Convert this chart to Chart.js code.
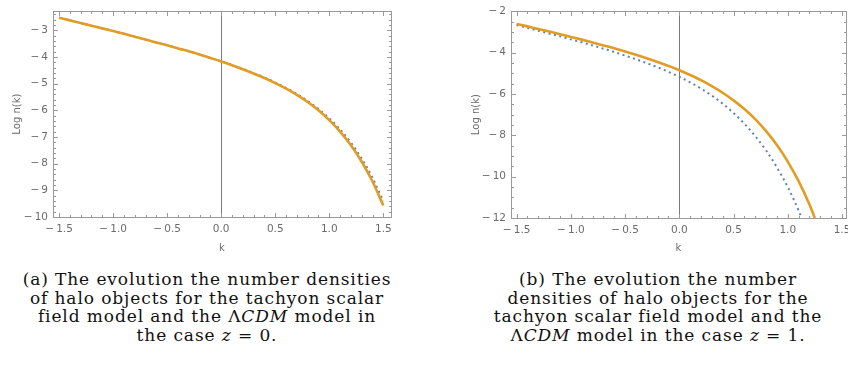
<!DOCTYPE html>
<html lang="en">
<head>
  <meta charset="UTF-8">
  <title>Halo number densities</title>
  <script src="https://cdn.jsdelivr.net/npm/chart.js"></script>
  <style>
    html, body { margin: 0; padding: 0; background: #fff; overflow: hidden; }
    body { width: 848px; height: 366px; position: relative; }
    canvas { position: absolute; top: 0; }
    #chartA { left: 0; }
    #chartB { left: 424px; }
    .caption {
      position: absolute;
      font-family: "DejaVu Serif", serif;
      font-size: 17px;
      letter-spacing: 0.9px;
      line-height: 18.5px;
      text-align: center;
      color: #111;
      white-space: nowrap;
    }
    .caption i { font-style: italic; }
    #capA { left: 0; width: 414px; top: 270px; }
    #capB { left: 458px; width: 400px; top: 270px; }
  </style>
</head>
<body>
  <canvas id="chartA" width="424" height="260"></canvas>
  <canvas id="chartB" width="440" height="260"></canvas>

  <div class="caption" id="capA">
    (a) The evolution the number densities<br>
    of halo objects for the tachyon scalar<br>
    field model and the Λ<i>CDM</i> model in<br>
    the case <i>z</i> = 0.
  </div>
  <div class="caption" id="capB">
    (b) The evolution the number<br>
    densities of halo objects for the<br>
    tachyon scalar field model and the<br>
    Λ<i>CDM</i> model in the case <i>z</i> = 1.
  </div>

  <script>
    // k values (shared by the z = 0 panel)
    const kValues = [-1.5, -1.4, -1.3, -1.2, -1.1, -1.0, -0.9, -0.8, -0.7, -0.6, -0.5,
      -0.4, -0.3, -0.2, -0.1, 0.0, 0.1, 0.2, 0.3, 0.4, 0.5, 0.6, 0.7, 0.8, 0.9, 1.0,
      1.1, 1.2, 1.3, 1.4, 1.5];

    // panel (a), z = 0
    const tachyonZ0 = [-2.53, -2.63, -2.73, -2.83, -2.93, -3.03, -3.13, -3.24, -3.35, -3.46, -3.56,
      -3.68, -3.79, -3.91, -4.04, -4.17, -4.31, -4.46, -4.62, -4.79, -4.98, -5.19, -5.42, -5.69, -6.00,
      -6.37, -6.80, -7.31, -7.93, -8.67, -9.57];
    const lcdmZ0 = [-2.53, -2.63, -2.73, -2.83, -2.93, -3.03, -3.13, -3.24, -3.35, -3.46, -3.56,
      -3.68, -3.79, -3.91, -4.04, -4.17, -4.30, -4.45, -4.61, -4.77, -4.96, -5.16, -5.39, -5.65, -5.95,
      -6.30, -6.72, -7.21, -7.81, -8.53, -9.41];

    // panel (b), z = 1
    const kTachyonZ1 = [-1.5, -1.4, -1.3, -1.2, -1.1, -1.0, -0.9, -0.8, -0.7, -0.6, -0.5,
      -0.4, -0.3, -0.2, -0.1, 0.0, 0.1, 0.2, 0.3, 0.4, 0.5, 0.6, 0.7, 0.8, 0.9, 1.0,
      1.1, 1.2, 1.25];
    const tachyonZ1 = [-2.61, -2.73, -2.86, -2.98, -3.11, -3.24, -3.37, -3.51, -3.65, -3.79, -3.94,
      -4.10, -4.27, -4.45, -4.64, -4.85, -5.08, -5.33, -5.62, -5.94, -6.31, -6.73, -7.22, -7.80, -8.47,
      -9.27, -10.22, -11.35, -12.0];
    const kLcdmZ1 = [-1.5, -1.4, -1.3, -1.2, -1.1, -1.0, -0.9, -0.8, -0.7, -0.6, -0.5,
      -0.4, -0.3, -0.2, -0.1, 0.0, 0.1, 0.2, 0.3, 0.4, 0.5, 0.6, 0.7, 0.8, 0.9, 1.0,
      1.1, 1.12];
    const lcdmZ1 = [-2.67, -2.80, -2.94, -3.08, -3.21, -3.36, -3.50, -3.65, -3.81, -3.97, -4.14,
      -4.32, -4.51, -4.71, -4.93, -5.17, -5.44, -5.74, -6.08, -6.47, -6.92, -7.44, -8.04, -8.73, -9.55,
      -10.50, -11.64, -11.90];

    // tick labels
    const xMajorTicks = [-1.5, -1.0, -0.5, 0.0, 0.5, 1.0, 1.5];
    const yMajorTicksA = [-3, -4, -5, -6, -7, -8, -9, -10];
    const yMajorTicksB = [-2, -4, -6, -8, -10, -12];

    const orange = '#e19c24';
    const blue = '#5e81b5';
    const frameColor = '#9a9a9a';
    const labelColor = '#6b6b6b';

    function pairs(xs, ys) {
      return xs.map((x, i) => ({ x: x, y: ys[i] }));
    }

    function range(from, to, step) {
      const out = [];
      const n = Math.round((to - from) / step);
      for (let i = 0; i <= n; i++) out.push(+(from + i * step).toFixed(4));
      return out;
    }

    function fmt(v, digits) {
      const s = Math.abs(v).toFixed(digits);
      return v < 0 ? '\u2212\u2009' + s : s;
    }

    // frame with inward ticks on all four sides, plus the vertical axis at k = 0
    const framePlugin = {
      id: 'frame',
      beforeDatasetsDraw(chart) {
        const { ctx, chartArea: a, scales: { x } } = chart;
        const px = Math.round(x.getPixelForValue(0)) + 0.5;
        ctx.save();
        ctx.strokeStyle = '#7a7a7a';
        ctx.lineWidth = 1;
        ctx.beginPath();
        ctx.moveTo(px, a.top);
        ctx.lineTo(px, a.bottom);
        ctx.stroke();
        ctx.restore();
      },
      afterDraw(chart) {
        const { ctx, chartArea: a, scales: { x, y } } = chart;
        const o = chart.options.plugins.frame;
        const l = Math.round(a.left) + 0.5, r = Math.round(a.right) + 0.5;
        const t = Math.round(a.top) + 0.5, b = Math.round(a.bottom) + 0.5;
        ctx.save();
        ctx.strokeStyle = frameColor;
        ctx.lineWidth = 1;
        ctx.strokeRect(l, t, r - l, b - t);
        ctx.beginPath();
        o.xMinor.forEach(v => {
          const p = Math.round(x.getPixelForValue(v)) + 0.5;
          if (p < l || p > r) return;
          const len = o.xMajor.some(m => Math.abs(m - v) < 1e-6) ? 4.5 : 2.5;
          ctx.moveTo(p, b); ctx.lineTo(p, b - len);
          ctx.moveTo(p, t); ctx.lineTo(p, t + len);
        });
        o.yMinor.forEach(v => {
          const p = Math.round(y.getPixelForValue(v)) + 0.5;
          if (p < t || p > b) return;
          const len = o.yMajor.some(m => Math.abs(m - v) < 1e-6) ? 4.5 : 2.5;
          ctx.moveTo(l, p); ctx.lineTo(l + len, p);
          ctx.moveTo(r, p); ctx.lineTo(r - len, p);
        });
        ctx.stroke();
        ctx.restore();
      }
    };

    function makeChart(id, cfg) {
      const ctx = document.getElementById(id).getContext('2d');
      return new Chart(ctx, {
        type: 'line',
        data: {
          datasets: [{
            label: 'tachyon',
            data: cfg.tachyon,
            borderColor: orange,
            borderWidth: 2.6,
            pointRadius: 0,
            cubicInterpolationMode: 'monotone',
            order: 0
          }, {
            label: 'LCDM',
            data: cfg.lcdm,
            borderColor: blue,
            borderWidth: 2,
            borderDash: [2, 3.5],
            pointRadius: 0,
            cubicInterpolationMode: 'monotone',
            order: 1
          }]
        },
        options: {
          responsive: false,
          animation: false,
          layout: { padding: { top: cfg.padTop, right: cfg.padRight, left: 0, bottom: 0 } },
          plugins: {
            legend: { display: false },
            tooltip: { enabled: false },
            frame: {
              xMajor: xMajorTicks, xMinor: range(-1.5, 1.5, 0.1),
              yMajor: cfg.yMajor, yMinor: cfg.yMinor
            }
          },
          scales: {
            x: {
              type: 'linear',
              min: cfg.xMin, max: cfg.xMax,
              afterBuildTicks: s => { s.ticks = xMajorTicks.map(v => ({ value: v })); },
              afterFit: s => { s.height = cfg.xHeight; },
              grid: { display: false, drawTicks: false },
              border: { display: false },
              ticks: {
                color: labelColor, font: { family: 'DejaVu Sans', size: 10.5 },
                padding: 6, maxRotation: 0, autoSkip: false,
                callback: v => fmt(v, 1)
              },
              title: {
                display: true, text: 'k', color: labelColor,
                font: { family: 'DejaVu Sans', size: 10 }, padding: { top: 0, bottom: 6 }
              }
            },
            y: {
              type: 'linear',
              min: cfg.yMin, max: cfg.yMax,
              afterBuildTicks: s => { s.ticks = cfg.yMajor.map(v => ({ value: v })); },
              afterFit: s => { s.width = cfg.yWidth; },
              grid: { display: false, drawTicks: false },
              border: { display: false },
              ticks: {
                color: labelColor, font: { family: 'DejaVu Sans', size: 10.5 },
                padding: 5, autoSkip: false,
                callback: v => fmt(v, 0)
              },
              title: {
                display: true, text: 'Log n(k)', color: labelColor,
                font: { family: 'DejaVu Sans', size: 10 }, padding: { top: cfg.yTitlePad, bottom: 0 }
              }
            }
          }
        },
        plugins: [framePlugin]
      });
    }

    makeChart('chartA', {
      tachyon: pairs(kValues, tachyonZ0),
      lcdm: pairs(kValues, lcdmZ0),
      xMin: -1.556, xMax: 1.571,
      yMin: -10, yMax: -2.29,
      yMajor: yMajorTicksA, yMinor: range(-10, -2.4, 0.2),
      padTop: 9.5, padRight: 33, xHeight: 43, yWidth: 53, yTitlePad: 11
    });

    makeChart('chartB', {
      tachyon: pairs(kTachyonZ1, tachyonZ1),
      lcdm: pairs(kLcdmZ1, lcdmZ1),
      xMin: -1.552, xMax: 1.537,
      yMin: -12, yMax: -2,
      yMajor: yMajorTicksB, yMinor: range(-12, -2, 0.5),
      padTop: 10, padRight: 18, xHeight: 42, yWidth: 87, yTitlePad: 46
    });
  </script>
</body>
</html>
